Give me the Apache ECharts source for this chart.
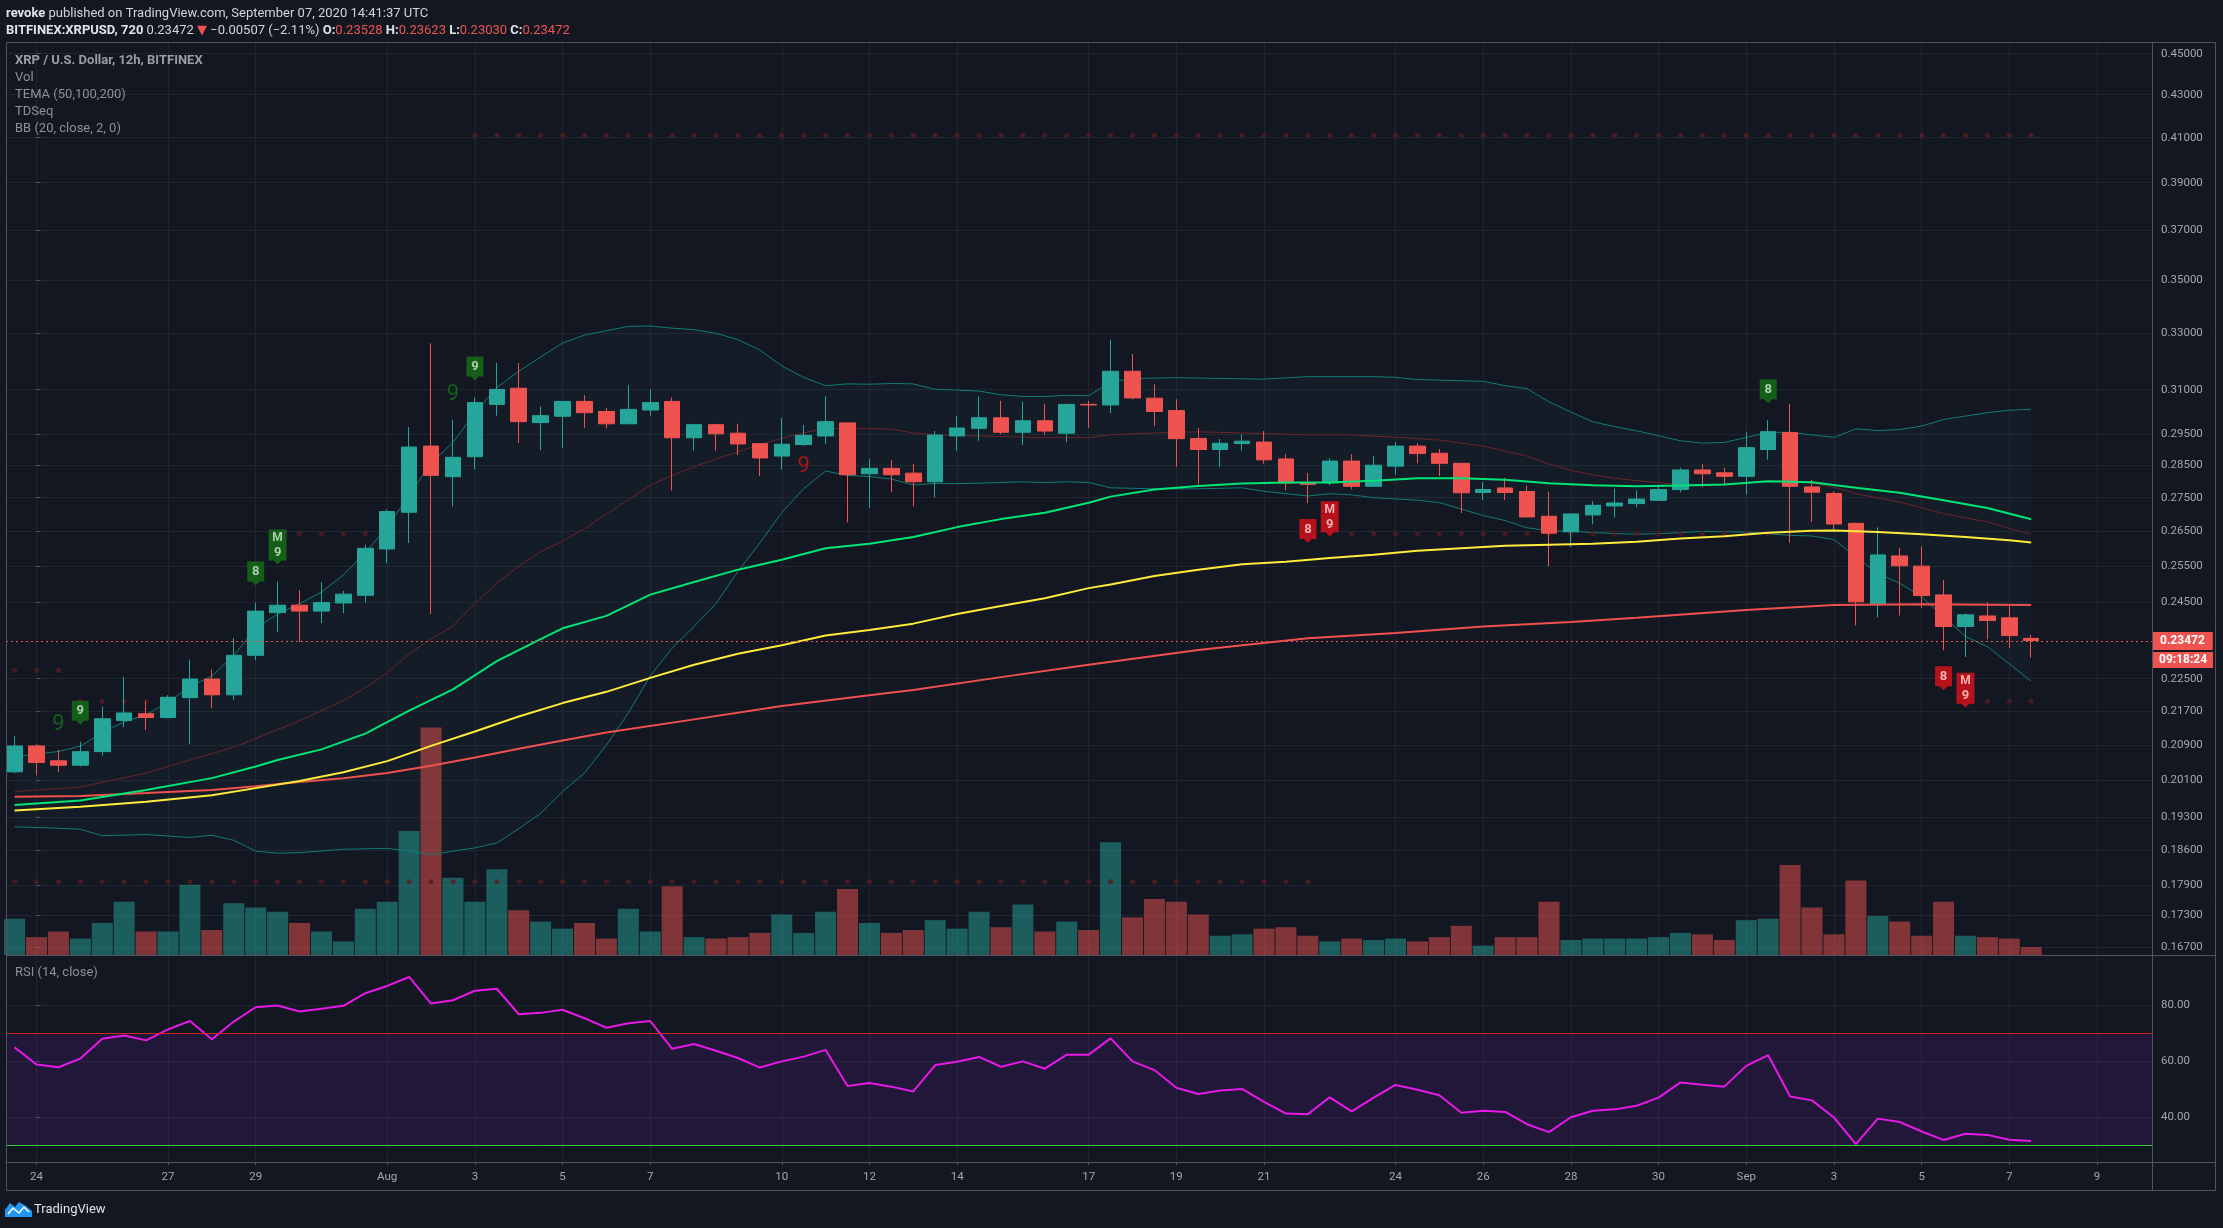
<!DOCTYPE html>
<html><head><meta charset="utf-8">
<script src="https://cdn.jsdelivr.net/npm/echarts@6/dist/echarts.min.js"></script>
<style>html,body{margin:0;padding:0;background:#131722;overflow:hidden}#c{width:2223px;height:1228px}</style>
</head><body><div id="c"></div>
<script>
// ---- DATA (12h candles, index 0 = Jul 24 00:00 UTC, step = 12h) ----
const startIdx = -1;
const opens  = [0.2029,0.2088,0.2054,0.2044,0.2075,0.2148,0.2164,0.2155,0.2203,0.2249,0.2210,0.2309,0.2421,0.2441,0.2425,0.2447,0.2468,0.2598,0.2706,0.2912,0.2815,0.2878,0.3050,0.3105,0.2989,0.3010,0.3060,0.3026,0.2985,0.3031,0.3060,0.2939,0.2982,0.2954,0.2920,0.2880,0.2917,0.2945,0.2988,0.2824,0.2841,0.2826,0.2799,0.2945,0.2970,0.3005,0.2957,0.2995,0.2954,0.3050,0.3048,0.3164,0.3071,0.3029,0.2937,0.2901,0.2920,0.2925,0.2871,0.2796,0.2796,0.2864,0.2785,0.2848,0.2912,0.2889,0.2857,0.2766,0.2780,0.2769,0.2694,0.2648,0.2698,0.2725,0.2732,0.2742,0.2775,0.2836,0.2827,0.2816,0.2901,0.2956,0.2783,0.2763,0.2673,0.2445,0.2578,0.2549,0.2469,0.2384,0.2412,0.2407,0.23528];
const closes = [0.2088,0.2050,0.2044,0.2075,0.2152,0.2166,0.2155,0.2204,0.2249,0.2210,0.2309,0.2425,0.2441,0.2425,0.2448,0.2471,0.2600,0.2708,0.2909,0.2819,0.2876,0.3056,0.3101,0.2992,0.3012,0.3060,0.3022,0.2985,0.3033,0.3056,0.2939,0.2982,0.2952,0.2919,0.2874,0.2918,0.2947,0.2992,0.2821,0.2841,0.2821,0.2799,0.2948,0.2971,0.3005,0.2957,0.2995,0.2961,0.3050,0.3048,0.3164,0.3072,0.3026,0.2936,0.2901,0.2921,0.2928,0.2868,0.2795,0.2791,0.2864,0.2785,0.2851,0.2912,0.2888,0.2857,0.2765,0.2775,0.2766,0.2692,0.2644,0.2701,0.2727,0.2734,0.2746,0.2775,0.2836,0.2824,0.2816,0.2907,0.2959,0.2785,0.2767,0.2671,0.2450,0.2581,0.2550,0.2467,0.2384,0.2415,0.2400,0.2360,0.23472];
const lows   = [0.2026,0.2021,0.2029,0.2041,0.2066,0.2132,0.2125,0.2153,0.2092,0.2177,0.2198,0.2296,0.2369,0.2343,0.2393,0.2420,0.2448,0.2557,0.2615,0.2417,0.2724,0.2837,0.3012,0.2922,0.2899,0.2906,0.2972,0.2970,0.2985,0.3012,0.2772,0.2897,0.2897,0.2883,0.2817,0.2837,0.2913,0.2920,0.2676,0.2719,0.2767,0.2724,0.2751,0.2897,0.2929,0.2951,0.2916,0.2948,0.2925,0.2972,0.3021,0.3067,0.2978,0.2846,0.2791,0.2846,0.2897,0.2856,0.2773,0.2734,0.2788,0.2776,0.2784,0.2821,0.2857,0.2817,0.2704,0.2743,0.2743,0.2692,0.2549,0.2603,0.2670,0.2690,0.2721,0.2742,0.2766,0.2782,0.2790,0.2760,0.2869,0.2616,0.2677,0.2655,0.2387,0.2408,0.2413,0.2434,0.2322,0.2305,0.2350,0.2328,0.23030];
const highs  = [0.2111,0.2092,0.2079,0.2098,0.2181,0.2254,0.2194,0.2209,0.2298,0.2273,0.2354,0.2448,0.2506,0.2482,0.2504,0.2480,0.2610,0.2715,0.2974,0.3264,0.2999,0.3073,0.3194,0.3193,0.3043,0.3062,0.3081,0.3038,0.3115,0.3101,0.3073,0.2985,0.2985,0.2985,0.2920,0.3005,0.2981,0.3077,0.2988,0.2871,0.2867,0.2855,0.2961,0.3012,0.3077,0.3062,0.3059,0.3052,0.3050,0.3062,0.3277,0.3225,0.3119,0.3067,0.2971,0.2935,0.2951,0.2961,0.2886,0.2826,0.2873,0.2886,0.2880,0.2925,0.2921,0.2903,0.2857,0.2799,0.2811,0.2787,0.2769,0.2701,0.2739,0.2778,0.2773,0.2790,0.2843,0.2855,0.2843,0.2959,0.2997,0.3052,0.2805,0.2769,0.2675,0.2661,0.2601,0.2606,0.2510,0.2419,0.2449,0.2441,0.23623];
const volume = [25.6,12.6,16.6,11.6,22.6,37.6,16.6,16.6,49.6,17.6,36.6,33.6,30.6,22.6,16.6,9.6,32.6,37.6,87.6,160.6,54.6,37.6,60.6,31.6,23.6,18.6,22.6,11.6,32.6,16.6,48.6,12.6,11.6,12.6,15.6,28.6,15.6,30.6,46.6,22.6,15.6,17.6,24.6,18.6,30.6,19.6,35.6,16.6,23.6,17.6,79.6,26.6,39.6,37.6,28.6,13.6,14.6,18.6,19.6,13.6,9.6,11.6,10.6,11.6,9.6,12.6,20.6,6.6,12.6,12.6,37.6,10.6,11.6,11.6,11.6,12.6,15.6,14.6,10.6,24.6,25.6,63.6,33.6,14.6,52.6,27.6,23.6,13.6,37.6,13.6,12.6,11.6,5.6];
const rsi = [65.0,58.9,57.9,61.0,68.1,69.2,67.5,71.4,74.4,67.9,74.2,79.3,79.9,77.8,78.8,79.8,84.3,86.9,90.1,80.6,81.8,85.2,85.9,76.8,77.3,78.4,75.4,72.0,73.6,74.4,64.5,66.2,63.8,61.2,57.8,60.0,61.7,64.1,51.2,52.3,51.0,49.3,58.7,59.9,61.6,58.1,60.0,57.4,62.4,62.4,68.2,60.0,56.9,50.6,48.4,49.6,50.2,45.6,41.4,41.2,47.2,42.2,47.1,51.6,49.9,47.9,41.7,42.4,42.0,37.6,34.8,40.1,42.4,42.9,44.2,47.1,52.5,51.7,51.0,58.4,62.2,47.5,46.1,40.0,30.5,39.6,38.4,35.0,32.0,34.2,33.8,32.1,31.6];
const tema50 = [[-1,0.19559],[2,0.19653],[5,0.19888],[8,0.20149],[10,0.2041],[11,0.20557],[13,0.20802],[15,0.2117],[17,0.21717],[19,0.22233],[21,0.22943],[23,0.23509],[24,0.23792],[26,0.24123],[28,0.24698],[30,0.25045],[32,0.25391],[34,0.25673],[36,0.26],[38,0.26133],[40,0.26327],[42,0.26618],[44,0.26855],[46,0.27048],[48,0.27349],[49,0.27533],[51,0.2775],[53,0.27859],[55,0.27935],[57,0.27967],[59,0.27967],[61,0.28022],[63,0.28098],[65,0.28098],[67,0.28054],[69,0.27946],[71,0.2788],[73,0.27851],[75,0.27874],[77,0.27904],[79,0.28005],[81,0.27975],[83,0.27803],[85,0.27652],[87,0.2742],[89,0.2719],[91,0.2685]];
const tema100 = [[-1,0.19441],[2,0.1952],[5,0.19629],[8,0.1977],[10,0.19927],[12,0.20084],[14,0.2028],[16,0.20533],[18,0.20884],[20,0.2122],[22,0.21574],[24,0.21898],[26,0.22173],[28,0.22519],[30,0.22849],[32,0.23132],[34,0.23349],[36,0.23604],[38,0.23745],[40,0.23915],[42,0.2417],[44,0.24387],[46,0.24599],[48,0.24876],[49,0.24975],[51,0.25213],[53,0.25391],[55,0.25541],[57,0.25612],[59,0.25724],[61,0.25816],[63,0.25929],[65,0.26],[67,0.26071],[69,0.26102],[71,0.26133],[73,0.26189],[75,0.26281],[77,0.26348],[79,0.26452],[81,0.2651],[82,0.2652],[84,0.26471],[86,0.26405],[88,0.26329],[90,0.26233],[91,0.26167]];
const tema200 = [[-1,0.19739],[2,0.19755],[5,0.19818],[8,0.19888],[10,0.19967],[12,0.20061],[14,0.20149],[16,0.20263],[18,0.20427],[20,0.20614],[22,0.20818],[24,0.2101],[26,0.21195],[30,0.21506],[34,0.21829],[38,0.22087],[40,0.22216],[44,0.22538],[48,0.22849],[53,0.23226],[58,0.23528],[62,0.2367],[66,0.2384],[70,0.23962],[73,0.24075],[78,0.2428],[82,0.24412],[86,0.24438],[91,0.24412]];
const bbUpper = [[-1,0.20631],[0,0.20696],[1,0.20753],[2,0.20876],[3,0.21195],[4,0.21447],[5,0.21616],[6,0.21915],[7,0.22302],[8,0.22566],[9,0.23085],[10,0.23792],[11,0.2417],[12,0.24453],[13,0.24767],[14,0.25243],[15,0.25878],[16,0.26618],[17,0.27587],[18,0.28569],[19,0.29241],[20,0.3022],[21,0.31075],[22,0.31642],[23,0.32145],[24,0.32648],[25,0.32937],[26,0.33094],[27,0.33256],[28,0.3327],[29,0.33189],[30,0.33135],[31,0.33],[32,0.32774],[33,0.32396],[34,0.3183],[35,0.31428],[36,0.31138],[37,0.31201],[38,0.31189],[39,0.31214],[40,0.31201],[41,0.31013],[42,0.30988],[43,0.30951],[44,0.30829],[45,0.30768],[46,0.30768],[47,0.30805],[48,0.30793],[49,0.31264],[50,0.3139],[52,0.31415],[56,0.31365],[58,0.31453],[61,0.31453],[62,0.31428],[63,0.31352],[66,0.31289],[67,0.31138],[68,0.31038],[69,0.30585],[70,0.30244],[71,0.29915],[72,0.29756],[73,0.2962],[75,0.29293],[76,0.29217],[77,0.29239],[78,0.29402],[79,0.29569],[80,0.29569],[82,0.29402],[83,0.29683],[84,0.29626],[85,0.2966],[86,0.29775],[87,0.29992],[89,0.30221],[90,0.30302],[91,0.30336]];
const bbBasis = [[-1,0.19849],[2,0.19951],[5,0.20263],[7,0.20557],[9,0.20851],[10,0.21052],[12,0.21473],[14,0.21958],[15,0.22276],[16,0.22642],[17,0.23132],[18,0.23509],[19,0.23858],[20,0.24453],[21,0.25015],[22,0.2549],[23,0.25898],[24,0.26204],[25,0.26575],[26,0.2701],[27,0.27446],[28,0.2788],[29,0.28185],[30,0.28457],[31,0.28707],[32,0.28937],[33,0.29167],[34,0.29374],[35,0.29549],[36,0.29695],[38,0.29695],[39,0.29672],[40,0.29549],[41,0.29488],[42,0.29466],[44,0.2943],[46,0.29397],[48,0.29397],[49,0.29488],[51,0.29549],[53,0.29585],[55,0.29549],[58,0.29488],[60,0.29488],[62,0.29408],[64,0.29316],[66,0.2912],[68,0.28799],[69,0.28546],[70,0.28348],[71,0.28207],[72,0.28098],[73,0.28025],[75,0.27904],[77,0.27894],[79,0.28005],[80,0.28005],[81,0.27944],[82,0.27823],[83,0.27621],[85,0.2737],[87,0.2702],[89,0.2677],[91,0.264]];
const bbLower = [[-1,0.1909],[1,0.1906],[2,0.19038],[3,0.18903],[5,0.18926],[7,0.18866],[8,0.18911],[9,0.18806],[10,0.1858],[11,0.1854],[12,0.1855],[14,0.1862],[16,0.1864],[17,0.1858],[18,0.1851],[19,0.1858],[20,0.1865],[21,0.1875],[22,0.1905],[23,0.19378],[24,0.19849],[25,0.20263],[26,0.209],[27,0.21658],[28,0.22566],[29,0.23274],[30,0.2384],[31,0.24453],[32,0.25342],[33,0.26153],[34,0.27048],[35,0.27772],[36,0.28326],[37,0.28185],[38,0.28152],[39,0.28076],[40,0.27891],[41,0.27935],[42,0.27935],[43,0.27946],[44,0.27967],[45,0.27989],[46,0.27967],[47,0.27989],[48,0.27967],[49,0.27804],[51,0.27772],[53,0.27772],[55,0.27804],[56,0.27696],[58,0.27554],[59,0.2762],[60,0.27587],[61,0.275],[63,0.27425],[64,0.2735],[65,0.27156],[66,0.26962],[67,0.26812],[68,0.26597],[69,0.26511],[70,0.2649],[71,0.26459],[72,0.26429],[73,0.26408],[74,0.26424],[76,0.2649],[78,0.26471],[80,0.26376],[81,0.26357],[82,0.26252],[83,0.25757],[84,0.25287],[85,0.25009],[86,0.24639],[87,0.24104],[88,0.23575],[89,0.23311],[90,0.2287],[91,0.2243]];
const tdLevels = [[-1,1,0.2271],[2,5,0.2194],[11,15,0.26427],[20,91,0.4111],[59,79,0.26427],[88,91,0.2194],[-1,58,0.1796]];
const tdMarks = [{i:1,t:'9',c:'g',box:false},{i:2,t:'9',c:'g',box:true},{i:10,t:'8',c:'g',box:true},{i:11,t:'M9',c:'g',box:true},{i:19,t:'9',c:'g',box:false},{i:20,t:'9',c:'g',box:true},{i:35,t:'9',c:'r',box:false},{i:58,t:'8',c:'r',box:true},{i:59,t:'M9',c:'r',box:true},{i:79,t:'8',c:'g',box:true},{i:87,t:'8',c:'r',box:true},{i:88,t:'M9',c:'r',box:true}];
const priceTicks = [0.45,0.43,0.41,0.39,0.37,0.35,0.33,0.31,0.295,0.285,0.275,0.265,0.255,0.245,0.225,0.217,0.209,0.201,0.193,0.186,0.179,0.173,0.167];
const rsiTicks = [40,60,80];
const dayTicks = [0,6,10,16,20,24,28,34,38,42,48,52,56,62,66,70,74,78,82,86,90,94];
const dayLabels = ['24','27','29','Aug','3','5','7','10','12','14','17','19','21','24','26','28','30','Sep','3','5','7','9'];
const lastClose = closes[closes.length - 1];
const countdown = '09:18:24';

// ---- CHART ----
const L = Math.log;
const FF = 'Roboto, "Noto Sans", "DejaVu Sans", sans-serif';
const GRIDC = '#21252f', BORDER = '#50535e', TXT = '#a3a6af';
const UP = '#26a69a', DN = '#ef5350';
const xMin = -1.391, xMax = 96.51;
const chart = echarts.init(document.getElementById('c'), null, {width:2223, height:1228});
const lnTicks = priceTicks.map(p => L(p));
const toLn = arr => arr.map(d => [d[0], L(d[1])]);
const lineS = (data, color, width, z) => ({type:'line', xAxisIndex:0, yAxisIndex:0, data: toLn(data), showSymbol:false, silent:true, z:z, lineStyle:{color:color, width:width}, animation:false});
const levelDots = [];
tdLevels.forEach(([a,b,p]) => { for (let i = a; i <= b; i++) levelDots.push([i, L(p)]); });

const option = {
  backgroundColor:'#131722',
  animation:false,
  grid:[
    {left:6, right:71, top:43, height:912},
    {left:6, right:71, top:700, height:255},
    {left:6, right:71, top:955, height:207}
  ],
  xAxis:[
    {gridIndex:0, type:'value', min:xMin, max:xMax, axisLine:{show:false}, axisTick:{show:false, customValues:dayTicks}, axisLabel:{show:false, customValues:dayTicks}, splitLine:{show:true, lineStyle:{color:GRIDC}}},
    {gridIndex:1, type:'value', min:xMin, max:xMax, show:false},
    {gridIndex:2, type:'value', min:xMin, max:xMax, axisLine:{show:true, lineStyle:{color:BORDER}},
     axisTick:{show:true, customValues:dayTicks, length:3, lineStyle:{color:BORDER}},
     axisLabel:{customValues:dayTicks, color:TXT, fontSize:11.5, fontFamily:FF, margin:9, formatter: v => dayLabels[dayTicks.indexOf(Math.round(v))]},
     splitLine:{show:true, lineStyle:{color:GRIDC}}}
  ],
  yAxis:[
    {gridIndex:0, type:'value', position:'right', min:L(0.1656), max:L(0.45537), axisLine:{show:false},
     axisTick:{show:true, customValues:lnTicks, length:4, lineStyle:{color:BORDER}},
     axisLabel:{customValues:lnTicks, color:TXT, fontSize:11.5, fontFamily:FF, margin:9, formatter: v => Math.exp(v).toFixed(5)},
     splitLine:{show:true, lineStyle:{color:GRIDC}}},
    {gridIndex:1, type:'value', min:0, max:180, show:false},
    {gridIndex:2, type:'value', position:'right', min:24.135, max:97.93, axisLine:{show:false},
     axisTick:{show:true, customValues:rsiTicks, length:4, lineStyle:{color:BORDER}},
     axisLabel:{customValues:rsiTicks, color:TXT, fontSize:11.5, fontFamily:FF, margin:9, formatter: v => v.toFixed(2)},
     splitLine:{show:true, lineStyle:{color:GRIDC}}}
  ],
  series:[
    {type:'bar', xAxisIndex:1, yAxisIndex:1, barWidth:21, silent:true, z:1,
     data: volume.map((v,k) => ({value:[startIdx+k, v], itemStyle:{color: closes[k] >= opens[k] ? 'rgba(38,166,154,0.5)' : 'rgba(239,83,80,0.5)'}}))},
    {type:'custom', xAxisIndex:0, yAxisIndex:0, silent:true, z:1, data:[[bbUpper[0][0], L(bbUpper[0][1])]],
     renderItem:(params, api) => {
       const up = bbUpper.map(d => api.coord([d[0], L(d[1])]));
       const lo = bbLower.map(d => api.coord([d[0], L(d[1])])).reverse();
       return {type:'polygon', shape:{points: up.concat(lo)}, style:{fill:'rgba(20,150,160,0.045)'}};
     }},
    {type:'scatter', xAxisIndex:0, yAxisIndex:0, data:levelDots, symbol:'circle', symbolSize:5, silent:true, z:2, itemStyle:{color:'#571b21'}},
    lineS(bbUpper, '#107c75', 1, 2),
    lineS(bbLower, '#107c75', 1, 2),
    lineS(bbBasis, '#6a2429', 1, 2),
    {type:'candlestick', xAxisIndex:0, yAxisIndex:0, barWidth:16, z:3, silent:true,
     encode:{x:0, y:[1,2,3,4]},
     data: opens.map((o,k) => [startIdx+k, L(o), L(closes[k]), L(lows[k]), L(highs[k])]),
     itemStyle:{color:UP, color0:DN, borderColor:UP, borderColor0:DN, borderWidth:1},
     markLine:{silent:true, symbol:['none','none'], animation:false,
       lineStyle:{color:DN, type:[2,3], width:1},
       data:[
         {yAxis:L(lastClose), label:{show:true, position:'end', distance:0, formatter: lastClose.toFixed(5), color:'#ffffff', fontWeight:'bold', fontSize:12, fontFamily:FF, backgroundColor:DN, padding:[3,8,3,8]}},
         {yAxis:L(lastClose), lineStyle:{color:'rgba(0,0,0,0)', type:'solid'}, label:{show:true, position:'end', distance:0, offset:[1,19], formatter: countdown, color:'#ffffff', fontWeight:'bold', fontSize:12, fontFamily:FF, backgroundColor:DN, padding:[2,6,2,6]}}
       ]}},
    lineS(tema200, '#f0504f', 2, 4),
    lineS(tema100, '#ffeb3b', 2, 4),
    lineS(tema50, '#00e676', 2, 4),
    {type:'custom', xAxisIndex:0, yAxisIndex:0, silent:true, z:6, clip:false,
     data: tdMarks.map(m => [m.i, L(m.c === 'g' ? highs[m.i - startIdx] : lows[m.i - startIdx])]),
     renderItem:(params, api) => {
       const m = tdMarks[params.dataIndex];
       const p = api.coord([api.value(0), api.value(1)]);
       const g = m.c === 'g';
       if (!m.box) {
         return {type:'text', style:{x:p[0], y: g ? p[1]-25 : p[1]+21, text:m.t, fill: g ? '#126019' : '#a3161a', fontSize:22, fontFamily:FF, align:'center', verticalAlign:'middle'}};
       }
       const dbl = m.t.length > 1;
       const h = dbl ? 31 : 20, w = dbl ? 18 : 17;
       const top = g ? p[1] - 21 - h : p[1] + 16;
       const bot = top + h, cx = p[0];
       const fill = g ? '#145e18' : '#b5121b';
       const tc = g ? '#a9cfaa' : '#f4b0b0';
       const kids = [{type:'polygon', shape:{points:[[cx-w/2,top],[cx+w/2,top],[cx+w/2,bot],[cx+4,bot],[cx,bot+4],[cx-4,bot],[cx-w/2,bot]]}, style:{fill:fill}}];
       if (dbl) {
         kids.push({type:'text', style:{x:cx, y:top+8.5, text:m.t[0], fill:tc, fontSize:12, fontWeight:'bold', fontFamily:FF, align:'center', verticalAlign:'middle'}});
         kids.push({type:'text', style:{x:cx, y:top+23, text:m.t[1], fill:tc, fontSize:13, fontWeight:'bold', fontFamily:FF, align:'center', verticalAlign:'middle'}});
       } else {
         kids.push({type:'text', style:{x:cx, y:top+h/2+0.5, text:m.t, fill:tc, fontSize:13, fontWeight:'bold', fontFamily:FF, align:'center', verticalAlign:'middle'}});
       }
       return {type:'group', children:kids};
     }},
    {type:'line', xAxisIndex:2, yAxisIndex:2, data: rsi.map((v,k) => [startIdx+k, v]), showSymbol:false, silent:true, z:4,
     lineStyle:{color:'#e619e6', width:2},
     markArea:{silent:true, itemStyle:{color:'rgba(112,30,194,0.15)'}, data:[[{yAxis:30},{yAxis:70}]]},
     markLine:{silent:true, symbol:['none','none'], label:{show:false}, animation:false,
       data:[{yAxis:70, lineStyle:{color:'#cc2626', width:1, type:'solid'}}, {yAxis:30, lineStyle:{color:'#39cc39', width:1, type:'solid'}}]}}
  ],
  graphic:[
    {type:'rect', silent:true, z:50, shape:{x:6.5, y:42.5, width:2209, height:1148}, style:{fill:'none', stroke:BORDER, lineWidth:1}},
    {type:'line', silent:true, z:50, shape:{x1:2152.5, y1:43, x2:2152.5, y2:1191}, style:{stroke:BORDER, lineWidth:1}},
    {type:'line', silent:true, z:50, shape:{x1:6, y1:955.5, x2:2216, y2:955.5}, style:{stroke:BORDER, lineWidth:1}},
    {type:'line', silent:true, z:50, shape:{x1:2152, y1:1162.5, x2:2216, y2:1162.5}, style:{stroke:BORDER, lineWidth:1}},
    {type:'text', silent:true, z:50, style:{x:6, y:13.5, verticalAlign:'middle', fontSize:13, fontFamily:FF, fill:'#d1d4dc',
      text:'{b|revoke} published on TradingView.com, September 07, 2020 14:41:37 UTC',
      rich:{b:{fontSize:13, fontFamily:FF, fontWeight:'bold', fill:'#e0e3eb'}}}},
    {type:'text', silent:true, z:50, style:{x:6, y:30.5, verticalAlign:'middle', fontSize:13, fontFamily:FF, fill:'#d1d4dc',
      text:'{b|BITFINEX:XRPUSD, 720} 0.23472 {r|▼} \u22120.00507 (\u22122.11%) {b|O:}{r|0.23528} {b|H:}{r|0.23623} {b|L:}{r|0.23030} {b|C:}{r|0.23472}',
      rich:{b:{fontSize:13, fontFamily:FF, fontWeight:'bold', fill:'#e0e3eb'}, r:{fontSize:13, fontFamily:FF, fill:'#ef5350'}}}},
    {type:'text', silent:true, z:50, style:{x:15, y:61, verticalAlign:'middle', text:'XRP / U.S. Dollar, 12h, BITFINEX', fontSize:13, fontWeight:'bold', fontFamily:FF, fill:'#9a9da6'}},
    {type:'text', silent:true, z:50, style:{x:15, y:78, verticalAlign:'middle', text:'Vol', fontSize:13, fontFamily:FF, fill:'#8c8f98'}},
    {type:'text', silent:true, z:50, style:{x:15, y:95, verticalAlign:'middle', text:'TEMA (50,100,200)', fontSize:13, fontFamily:FF, fill:'#8c8f98'}},
    {type:'text', silent:true, z:50, style:{x:15, y:112, verticalAlign:'middle', text:'TDSeq', fontSize:13, fontFamily:FF, fill:'#8c8f98'}},
    {type:'text', silent:true, z:50, style:{x:15, y:129, verticalAlign:'middle', text:'BB (20, close, 2, 0)', fontSize:13, fontFamily:FF, fill:'#8c8f98'}},
    {type:'text', silent:true, z:50, style:{x:15, y:973, verticalAlign:'middle', text:'RSI (14, close)', fontSize:13, fontFamily:FF, fill:'#8c8f98'}},
    {type:'polygon', silent:true, z:50, shape:{points:[[5,1217],[5,1210],[10,1203],[15,1207],[19,1202],[26,1206],[32,1211],[32,1217]]}, style:{fill:'#2196f3'}},
    {type:'polyline', silent:true, z:51, shape:{points:[[8,1214],[13,1208],[19,1213],[24,1207],[29,1212]]}, style:{stroke:'#ffffff', lineWidth:1.5, fill:'none'}},
    {type:'text', silent:true, z:50, style:{x:34, y:1210, verticalAlign:'middle', text:'TradingView', fontSize:13, fontFamily:FF, fill:'#e0e3eb'}}
  ]
};
chart.setOption(option);
</script></body></html>
